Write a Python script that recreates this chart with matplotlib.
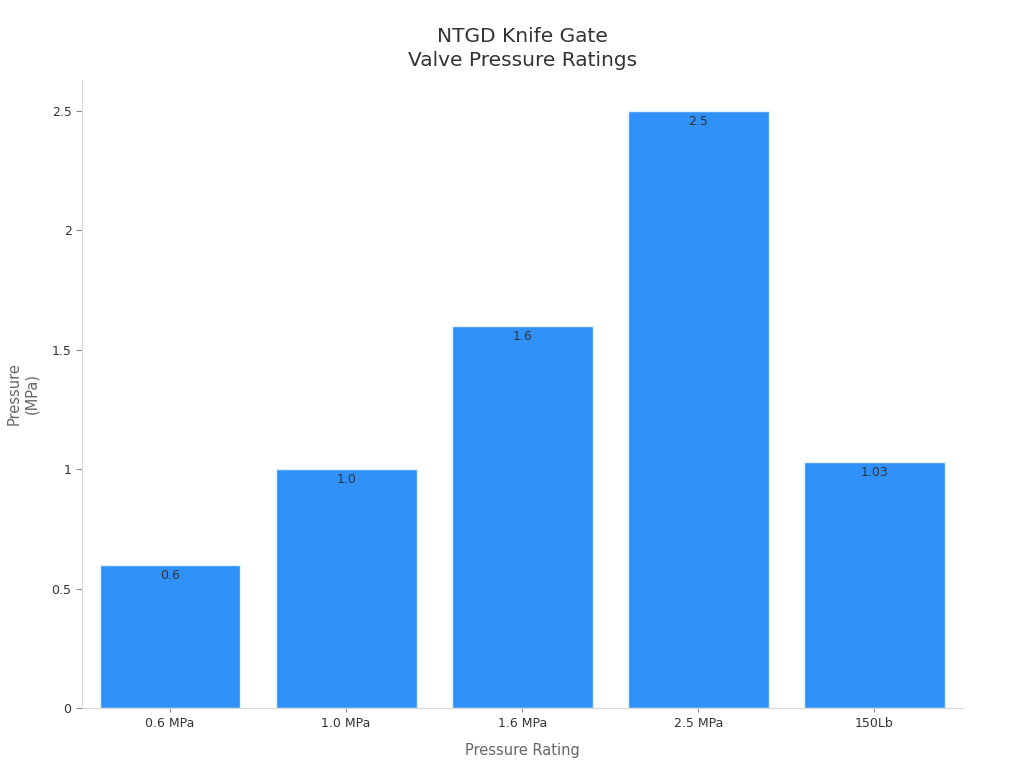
import matplotlib
matplotlib.use("Agg")
import matplotlib.pyplot as plt

categories = ["0.6 MPa", "1.0 MPa", "1.6 MPa", "2.5 MPa", "150Lb"]
values = [0.6, 1.0, 1.6, 2.5, 1.03]
value_labels = ["0.6", "1.0", "1.6", "2.5", "1.03"]
yticks = [0, 0.5, 1, 1.5, 2, 2.5]
ytick_labels = ["0", "0.5", "1", "1.5", "2", "2.5"]

plt.rcParams['font.family'] = ['DejaVu Sans']
fig = plt.figure(figsize=(10.24, 7.68), dpi=100)
ax = fig.add_axes([0.080, 0.078, 0.860, 0.818])

x = list(range(len(categories)))
bars = ax.bar(x, values, width=0.8, color="#3092F8", edgecolor="#e3f0ff", linewidth=1)
for xi, v, lab in zip(x, values, value_labels):
    ax.annotate(lab, (xi, v), xytext=(0, -3), textcoords="offset points",
                ha="center", va="top", fontsize=9, color="#333333")

ax.set_xlim(-0.5, 4.5)
ax.set_ylim(0, 2.63)
ax.set_xticks(x)
ax.set_xticklabels(categories, fontsize=9, color="#333333")
ax.set_yticks(yticks)
ax.set_yticklabels(ytick_labels, fontsize=9, color="#333333")
for s in ["top", "right"]:
    ax.spines[s].set_visible(False)
for s in ["left", "bottom"]:
    ax.spines[s].set_color("#d9d9d9")
ax.tick_params(axis="both", colors="#888888", length=4, width=0.8, labelcolor="#333333")
ax.tick_params(axis="x", length=3)

ax.set_xlabel("Pressure Rating", fontsize=10.5, color="#666666", labelpad=9)
ax.set_ylabel("Pressure\n(MPa)", fontsize=10.5, color="#666666", labelpad=9)
ax.set_title("NTGD Knife Gate\nValve Pressure Ratings", fontsize=14.5, color="#333333",
             pad=10, linespacing=1.35)

fig.savefig("out.png", dpi=100)
